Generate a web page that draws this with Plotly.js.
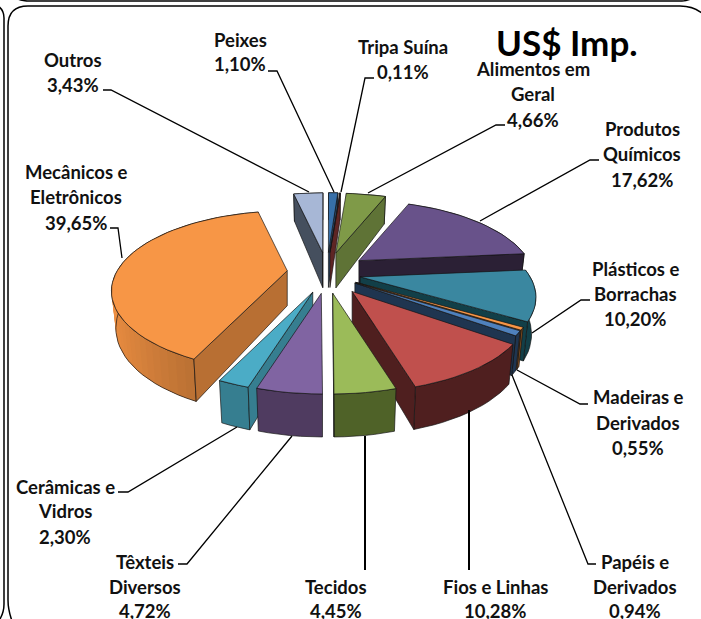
<!DOCTYPE html>
<html><head><meta charset="utf-8">
<script src="https://cdn.plot.ly/plotly-3.0.1.min.js"></script>
<style>html,body{margin:0;padding:0;background:#fff;overflow:hidden}#c{width:701px;height:619px}</style>
</head><body><div id="c"></div>
<script>
// ---- chart data (clockwise from 12 o'clock) ----
const categories = ["Tripa Suína","Alimentos em Geral","Produtos Químicos","Plásticos e Borrachas","Madeiras e Derivados","Papéis e Derivados","Fios e Linhas","Tecidos","Têxteis Diversos","Cerâmicas e Vidros","Mecânicos e Eletrônicos","Outros","Peixes"];
const values = [0.11,4.66,17.62,10.20,0.55,0.94,10.28,4.45,4.72,2.30,39.65,3.43,1.10];
const topColors = ["#8E3A38","#7F9A48","#68528A","#3A87A0","#F79646","#4F81BD","#C0504D","#9BBB59","#8064A2","#4BACC6","#F79646","#A7B7D6","#376FA8"];
const sideColors = ["#5E2524","#5F7336","#2B2035","#123F48","#7F4B1E","#1F3550","#4F1F1F","#4F6228","#4F3B60","#367E90","#B86F33","#454F5E","#26496F"];
const explode = [1,1,1,0.85,0.85,0.85,1.1,1,1,1,1,1,1];
const labelLines = [["Tripa Suína"],["Alimentos em","Geral"],["Produtos","Químicos"],["Plásticos e","Borrachas"],["Madeiras e","Derivados"],["Papéis e","Derivados"],["Fios e Linhas"],["Tecidos"],["Têxteis","Diversos"],["Cerâmicas e","Vidros"],["Mecânicos e","Eletrônicos"],["Outros"],["Peixes"]];
const titleText = "US$ Imp.";

// ---- label placement: [centre x, y of each line], leader polyline ----
const labelPos = [
 [403,[47,72]],[533,[69,94,120]],[642,[129,154,180]],[635,[269,294,319]],[638,[397,423,448]],[635,[562,587,611]],
 [495,[587,611]],[336,[587,611]],[145,[562,587,611]],[65,[487,511,537]],[76,[172,197,223]],[73,[60,85]],[240,[40,64]]];
const leaders = [
 [[374,78],[365,78],[341,192]],[[505,125],[496,125],[368,193]],[[599,160],[590,160],[480,221]],
 [[590,300],[581,300],[532,333]],[[588,404],[580,404],[517,370]],[[596,564],[588,564],[512,375]],
 [[469,570],[469,410]],[[365,570],[365,436]],[[178,564],[187,564],[292,436]],
 [[118,492],[128,492],[237,427]],[[110,228],[118,228],[122,258]],[[103,90],[111,90],[309,192]],[[268,71],[277,71],[334,192]]];

// ---- perspective projection of the pie (tilted disc) ----
const cx=327, cy=273, ex=40, ey=20.5, rx=170, ry=75, persp=0.255, rot=4;
const rad=d=>(d+rot)*Math.PI/180;
const total=values.reduce((a,b)=>a+b,0);
function proj(deg){const X=Math.sin(rad(deg)),Y=Math.cos(rad(deg)),w=1+persp*Y;return {X,dx:rx*X/w,dy:-ry*Y/w,h:35-8*Y};}

const traces=[], ink='rgba(20,20,20,0.85)';
function poly(xs,ys,color,name,bare){traces.push({type:'scatter',mode:'lines',x:xs.concat(xs[0]),y:ys.concat(ys[0]),fill:color?'toself':'none',fillcolor:color||undefined,line:bare?{color:'rgba(0,0,0,0)',width:0}:{color:ink,width:0.8},name:name,hoverinfo:'name',showlegend:false});}
function shade(hex,f){const n=parseInt(hex.slice(1),16);const c=[n>>16,(n>>8)&255,n&255].map(v=>Math.min(255,Math.round(v*f)));return 'rgb('+c.join(',')+')';}

let acc=0;
const slices=values.map((v,i)=>{
  const a0=acc/total*360; acc+=v; const a1=acc/total*360; const m=(a0+a1)/2;
  const ax=cx+ex*explode[i]*Math.sin(rad(m)), ay=cy-ey*explode[i]*Math.cos(rad(m));
  return {i,a0,a1,ax,ay};
}).sort((p,q)=>p.ay-q.ay);

slices.forEach(s=>{
  const {i,a0,a1,ax,ay}=s, n=Math.max(2,Math.ceil((a1-a0)/3));
  const tx=[],ty=[],bx=[],by=[],xs=[];
  for(let k=0;k<=n;k++){const p=proj(a0+(a1-a0)*k/n);xs.push(p.X);
    tx.push(ax+p.dx);ty.push(ay+p.dy);bx.push(ax+p.dx*0.975);by.push(ay+p.dy+p.h);}
  const name=categories[i];
  // outer wall: flat fill, then overlapping lighter strips where it turns to the left
  poly(tx.concat(bx.slice().reverse()),ty.concat(by.slice().reverse()),sideColors[i],name,true);
  for(let k=0;k<n;k++){
    const f=1+0.3*Math.max(0,(-(xs[k]+xs[k+1])/2-0.4)/0.6);
    if(f>1.01&&(by[k]>ty[k])){const e=Math.min(n,k+2);
      poly([tx[k],tx[e],bx[e],bx[k]],[ty[k],ty[e],by[e],by[k]],shade(sideColors[i],f),name,true);}
  }
  poly(tx.concat(bx.slice().reverse()),ty.concat(by.slice().reverse()),null,name);
  // radial cut walls, only those facing the viewer
  const ah=35;
  if(tx[0]<=ax) poly([ax,tx[0],bx[0],ax],[ay,ty[0],by[0],ay+ah],sideColors[i],name);
  if(tx[n]>ax) poly([ax,tx[n],bx[n],ax],[ay,ty[n],by[n],ay+ah],sideColors[i],name);
  // top face
  poly([ax].concat(tx),[ay].concat(ty),topColors[i],name);
});

// ---- text ----
const annotations=[];
const font={family:'Lato, Carlito, sans-serif',size:18.5,color:'#111'};
values.forEach((v,i)=>{
  const lines=labelLines[i].concat(v.toFixed(2).replace('.',',')+'%');
  lines.forEach((t,k)=>annotations.push({xref:'x',yref:'y',x:labelPos[i][0],y:labelPos[i][1][k],text:'<b>'+t+'</b>',showarrow:false,font,xanchor:'center',yanchor:'middle'}));
});
annotations.push({xref:'x',yref:'y',x:567,y:42,text:'<b>'+titleText+'</b>',showarrow:false,font:{family:'Lato, Carlito, sans-serif',size:35,color:'#000'},xanchor:'center',yanchor:'middle'});

// ---- leaders + panel frames ----
const shapes=leaders.map((l,i)=>({type:'path',xref:'x',yref:'y',path:'M'+l.map(p=>p.join(',')).join(' L'),line:{color:'#000',width:(i==6||i==7)?2:1.3},fillcolor:'rgba(0,0,0,0)'}));
const frame=d=>({type:'path',xref:'x',yref:'y',path:d,line:{color:'#000',width:1.5},fillcolor:'rgba(0,0,0,0)'});
shapes.push(frame('M14,626 Q8,612 8,600 L8,26 Q8,6 28,6 L680,6 Q694,6 703,14'));
shapes.push(frame('M-2,622 Q4,614 4,604 L4,18 Q4,10 -2,6'));
shapes.push(frame('M18,-1 Q22,1 30,1 L682,1 Q688,1 694,-3'));

Plotly.newPlot('c',traces,{
  width:701,height:619,margin:{l:0,r:0,t:0,b:0},paper_bgcolor:'#fff',plot_bgcolor:'#fff',showlegend:false,
  xaxis:{range:[0,701],visible:false,fixedrange:true},
  yaxis:{range:[619,0],visible:false,fixedrange:true},
  annotations,shapes
},{displayModeBar:false});
</script></body></html>
